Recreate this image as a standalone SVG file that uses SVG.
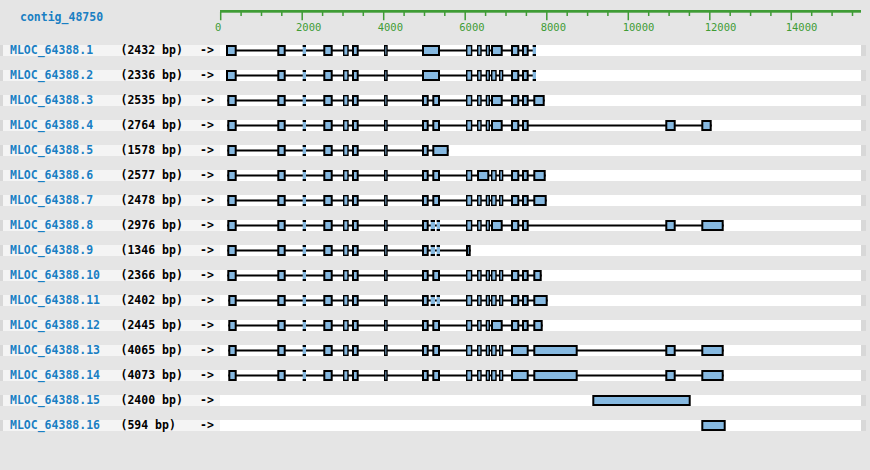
<svg xmlns="http://www.w3.org/2000/svg" xmlns:xlink="http://www.w3.org/1999/xlink" width="870" height="470" viewBox="0 0 870 470">
<style>
.bg{fill:#e5e5e5}
.bl{fill:#f4f4f4}
.bw{fill:#ffffff}
.bt{fill:#d8d8d8}
.ex{fill:#86b9e1;stroke:#000;stroke-width:2}
.en{fill:#86b9e1;stroke:#000;stroke-width:1.4}
.tf{fill:#86b9e1}
.tk{fill:#000}
.in{stroke:#000;stroke-width:2}
.name{font-family:"DejaVu Sans Mono","Liberation Mono",monospace;font-weight:bold;font-size:11.5px;fill:#1a7fc3}
.len{font-family:"DejaVu Sans Mono","Liberation Mono",monospace;font-weight:bold;font-size:11.5px;fill:#000}
.rl{font-family:"DejaVu Sans Mono","Liberation Mono",monospace;font-size:10.5px;fill:#3f9c35}
.tick{stroke:#3f9c35;stroke-width:1.5}
</style>
<defs>
<g id="band">
<rect x="0" y="0" width="3" height="11" class="bt"/>
<rect x="3" y="0" width="217" height="11" class="bl"/>
<rect x="220" y="0" width="641" height="11" class="bw"/>
<rect x="861" y="0" width="5" height="11" class="bt"/>
</g>
<g id="tiny">
<rect x="0" y="0" width="3.3" height="11" class="tf"/>
<rect x="0" y="0" width="3.3" height="2" class="tk"/>
<rect x="0" y="9" width="3.3" height="2" class="tk"/>
</g>
<g id="tinyw">
<rect x="0" y="0" width="4.3" height="11" class="tf"/>
<rect x="0" y="0" width="4.3" height="2" class="tk"/>
<rect x="0" y="9" width="4.3" height="2" class="tk"/>
</g>
<g id="core">
<rect x="278.3" y="1" width="6.4" height="9" class="ex"/>
<use xlink:href="#tiny" x="302.7"/>
<rect x="324.3" y="1" width="7.4" height="9" class="ex"/>
<rect x="343.7" y="0.7" width="4.3" height="9.6" class="en"/>
<rect x="353" y="1" width="4.7" height="9" class="ex"/>
<rect x="384.7" y="0.7" width="2.3" height="9.6" class="en"/>
</g>
<g id="dash">
<use xlink:href="#tinyw" x="430.7"/>
<use xlink:href="#tiny" x="436.7"/>
</g>
<rect id="e7a" x="423" y="1" width="4.7" height="9" class="ex"/>
<rect id="e7b" x="433.3" y="1" width="5.7" height="9" class="ex"/>
<rect id="e8" x="466.7" y="0.7" width="4.9" height="9.6" class="en"/>
<rect id="e9" x="477.7" y="0.7" width="3.3" height="9.6" class="en"/>
<rect id="e10" x="486.4" y="0.7" width="2.9" height="9.6" class="en"/>
<rect id="e11" x="492" y="1" width="9.7" height="9" class="ex"/>
<rect id="e11a" x="491.7" y="0.7" width="4.3" height="9.6" class="en"/>
<rect id="e11b" x="499.7" y="0.7" width="2.9" height="9.6" class="en"/>
<rect id="e12" x="512" y="1" width="6.3" height="9" class="ex"/>
<rect id="e13" x="523" y="1" width="4.7" height="9" class="ex"/>
</defs>
<rect x="0" y="0" width="870" height="470" class="bg"/>

<g id="ruler">
<text x="20" y="21" class="name">contig_48750</text>
<rect x="220" y="10" width="641" height="2.7" fill="#3f9c35"/>
<path class="tick" d="M220.7 12v8.3M302.2 12v8.3M383.7 12v8.3M465.2 12v8.3M546.8 12v8.3M628.3 12v8.3M709.8 12v8.3M791.3 12v8.3"/>
<path class="tick" d="M241.1 12v4M261.5 12v4M281.8 12v4M322.6 12v4M343 12v4M363.3 12v4M404.1 12v4M424.5 12v4M444.8 12v4M485.6 12v4M506 12v4M526.4 12v4M567.2 12v4M587.6 12v4M607.9 12v4M648.7 12v4M669.1 12v4M689.4 12v4M730.2 12v4M750.6 12v4M770.9 12v4M811.7 12v4M832.1 12v4M852.5 12v4"/>
<text x="215" y="30.7" class="rl">0</text>
<text x="296" y="30.7" class="rl">2000</text>
<text x="377.7" y="30.7" class="rl">4000</text>
<text x="459.3" y="30.7" class="rl">6000</text>
<text x="540.7" y="30.7" class="rl">8000</text>
<text x="622.7" y="30.7" class="rl">10000</text>
<text x="704.7" y="30.7" class="rl">12000</text>
<text x="785.7" y="30.7" class="rl">14000</text>
</g>

<g id="row1" transform="translate(0,45)">
<use xlink:href="#band"/>
<text x="10" y="9.4" class="name">MLOC_64388.1</text><text x="120.5" y="9.4" class="len">(2432 bp)</text><text x="200" y="9.4" class="len">-&gt;</text>
<line x1="226" y1="5.5" x2="536" y2="5.5" class="in"/>
<rect x="227" y="1" width="8.7" height="9" class="ex"/>
<use xlink:href="#core"/>
<rect x="423" y="1" width="16" height="9" class="ex"/>
<use xlink:href="#e8"/><use xlink:href="#e9"/><use xlink:href="#e10"/><use xlink:href="#e11"/><use xlink:href="#e12"/><use xlink:href="#e13"/>
<use xlink:href="#tiny" x="532.7"/>
</g>

<g id="row2" transform="translate(0,70)">
<use xlink:href="#band"/>
<text x="10" y="9.4" class="name">MLOC_64388.2</text><text x="120.5" y="9.4" class="len">(2336 bp)</text><text x="200" y="9.4" class="len">-&gt;</text>
<line x1="226" y1="5.5" x2="536" y2="5.5" class="in"/>
<rect x="227" y="1" width="8.7" height="9" class="ex"/>
<use xlink:href="#core"/>
<rect x="423" y="1" width="16" height="9" class="ex"/>
<use xlink:href="#e8"/><use xlink:href="#e9"/><use xlink:href="#e10"/><use xlink:href="#e11a"/><use xlink:href="#e11b"/><use xlink:href="#e12"/><use xlink:href="#e13"/>
<use xlink:href="#tiny" x="532.7"/>
</g>

<g id="row3" transform="translate(0,95)">
<use xlink:href="#band"/>
<text x="10" y="9.4" class="name">MLOC_64388.3</text><text x="120.5" y="9.4" class="len">(2535 bp)</text><text x="200" y="9.4" class="len">-&gt;</text>
<line x1="227.3" y1="5.5" x2="544.7" y2="5.5" class="in"/>
<rect x="228.3" y="1" width="7.4" height="9" class="ex"/>
<use xlink:href="#core"/>
<use xlink:href="#e7a"/><use xlink:href="#e7b"/>
<use xlink:href="#e8"/><use xlink:href="#e9"/><use xlink:href="#e10"/><use xlink:href="#e11"/><use xlink:href="#e12"/><use xlink:href="#e13"/>
<rect x="534.3" y="1" width="9.4" height="9" class="ex"/>
</g>

<g id="row4" transform="translate(0,120)">
<use xlink:href="#band"/>
<text x="10" y="9.4" class="name">MLOC_64388.4</text><text x="120.5" y="9.4" class="len">(2764 bp)</text><text x="200" y="9.4" class="len">-&gt;</text>
<line x1="227.3" y1="5.5" x2="711.7" y2="5.5" class="in"/>
<rect x="228.3" y="1" width="7.4" height="9" class="ex"/>
<use xlink:href="#core"/>
<use xlink:href="#e7a"/><use xlink:href="#e7b"/>
<use xlink:href="#e8"/><use xlink:href="#e9"/><use xlink:href="#e10"/><use xlink:href="#e11"/><use xlink:href="#e12"/><use xlink:href="#e13"/>
<rect x="666.3" y="1" width="8.4" height="9" class="ex"/>
<rect x="702.3" y="1" width="8.4" height="9" class="ex"/>
</g>

<g id="row5" transform="translate(0,145)">
<use xlink:href="#band"/>
<text x="10" y="9.4" class="name">MLOC_64388.5</text><text x="120.5" y="9.4" class="len">(1578 bp)</text><text x="200" y="9.4" class="len">-&gt;</text>
<line x1="227.3" y1="5.5" x2="448.7" y2="5.5" class="in"/>
<rect x="228.3" y="1" width="7.4" height="9" class="ex"/>
<use xlink:href="#core"/>
<use xlink:href="#e7a"/>
<rect x="433.3" y="1" width="14.4" height="9" class="ex"/>
</g>

<g id="row6" transform="translate(0,170)">
<use xlink:href="#band"/>
<text x="10" y="9.4" class="name">MLOC_64388.6</text><text x="120.5" y="9.4" class="len">(2577 bp)</text><text x="200" y="9.4" class="len">-&gt;</text>
<line x1="227.3" y1="5.5" x2="545.7" y2="5.5" class="in"/>
<rect x="228.3" y="1" width="7.4" height="9" class="ex"/>
<use xlink:href="#core"/>
<use xlink:href="#e7a"/><use xlink:href="#e7b"/>
<use xlink:href="#e8"/>
<rect x="478" y="1" width="10.3" height="9" class="ex"/>
<use xlink:href="#e11a"/><use xlink:href="#e11b"/><use xlink:href="#e12"/><use xlink:href="#e13"/>
<rect x="534.3" y="1" width="10.4" height="9" class="ex"/>
</g>

<g id="row7" transform="translate(0,195)">
<use xlink:href="#band"/>
<text x="10" y="9.4" class="name">MLOC_64388.7</text><text x="120.5" y="9.4" class="len">(2478 bp)</text><text x="200" y="9.4" class="len">-&gt;</text>
<line x1="227.3" y1="5.5" x2="546.7" y2="5.5" class="in"/>
<rect x="228.3" y="1" width="7.4" height="9" class="ex"/>
<use xlink:href="#core"/>
<use xlink:href="#e7a"/><use xlink:href="#e7b"/>
<use xlink:href="#e8"/><use xlink:href="#e9"/><use xlink:href="#e10"/><use xlink:href="#e11a"/><use xlink:href="#e11b"/><use xlink:href="#e12"/><use xlink:href="#e13"/>
<rect x="534.3" y="1" width="11.4" height="9" class="ex"/>
</g>

<g id="row8" transform="translate(0,220)">
<use xlink:href="#band"/>
<text x="10" y="9.4" class="name">MLOC_64388.8</text><text x="120.5" y="9.4" class="len">(2976 bp)</text><text x="200" y="9.4" class="len">-&gt;</text>
<line x1="227.3" y1="5.5" x2="723.7" y2="5.5" class="in"/>
<rect x="228.3" y="1" width="7.4" height="9" class="ex"/>
<use xlink:href="#core"/>
<use xlink:href="#e7a"/><use xlink:href="#dash"/>
<use xlink:href="#e8"/><use xlink:href="#e9"/><use xlink:href="#e10"/><use xlink:href="#e11"/><use xlink:href="#e12"/><use xlink:href="#e13"/>
<rect x="666.3" y="1" width="8.4" height="9" class="ex"/>
<rect x="702.3" y="1" width="20.4" height="9" class="ex"/>
</g>

<g id="row9" transform="translate(0,245)">
<use xlink:href="#band"/>
<text x="10" y="9.4" class="name">MLOC_64388.9</text><text x="120.5" y="9.4" class="len">(1346 bp)</text><text x="200" y="9.4" class="len">-&gt;</text>
<line x1="227.3" y1="5.5" x2="470.7" y2="5.5" class="in"/>
<rect x="228.3" y="1" width="7.4" height="9" class="ex"/>
<use xlink:href="#core"/>
<use xlink:href="#e7a"/><use xlink:href="#dash"/>
<rect x="467" y="1" width="2.7" height="9" class="ex"/>
</g>

<g id="row10" transform="translate(0,270)">
<use xlink:href="#band"/>
<text x="10" y="9.4" class="name">MLOC_64388.10</text><text x="120.5" y="9.4" class="len">(2366 bp)</text><text x="200" y="9.4" class="len">-&gt;</text>
<line x1="227.3" y1="5.5" x2="541.7" y2="5.5" class="in"/>
<rect x="228.3" y="1" width="7.4" height="9" class="ex"/>
<use xlink:href="#core"/>
<use xlink:href="#e7a"/><use xlink:href="#e7b"/>
<use xlink:href="#e8"/><use xlink:href="#e9"/><use xlink:href="#e10"/><use xlink:href="#e11a"/><use xlink:href="#e11b"/><use xlink:href="#e12"/><use xlink:href="#e13"/>
<rect x="534.3" y="1" width="6.4" height="9" class="ex"/>
</g>

<g id="row11" transform="translate(0,295)">
<use xlink:href="#band"/>
<text x="10" y="9.4" class="name">MLOC_64388.11</text><text x="120.5" y="9.4" class="len">(2402 bp)</text><text x="200" y="9.4" class="len">-&gt;</text>
<line x1="228.3" y1="5.5" x2="547.7" y2="5.5" class="in"/>
<rect x="229.3" y="1" width="6.4" height="9" class="ex"/>
<use xlink:href="#core"/>
<use xlink:href="#e7a"/><use xlink:href="#dash"/>
<use xlink:href="#e8"/><use xlink:href="#e9"/><use xlink:href="#e10"/><use xlink:href="#e11a"/><use xlink:href="#e11b"/><use xlink:href="#e12"/><use xlink:href="#e13"/>
<rect x="534.3" y="1" width="12.4" height="9" class="ex"/>
</g>

<g id="row12" transform="translate(0,320)">
<use xlink:href="#band"/>
<text x="10" y="9.4" class="name">MLOC_64388.12</text><text x="120.5" y="9.4" class="len">(2445 bp)</text><text x="200" y="9.4" class="len">-&gt;</text>
<line x1="228.3" y1="5.5" x2="542.7" y2="5.5" class="in"/>
<rect x="229.3" y="1" width="6.4" height="9" class="ex"/>
<use xlink:href="#core"/>
<use xlink:href="#e7a"/><use xlink:href="#e7b"/>
<use xlink:href="#e8"/><use xlink:href="#e9"/><use xlink:href="#e10"/><use xlink:href="#e11"/><use xlink:href="#e12"/><use xlink:href="#e13"/>
<rect x="534.3" y="1" width="7.4" height="9" class="ex"/>
</g>

<g id="row13" transform="translate(0,345)">
<use xlink:href="#band"/>
<text x="10" y="9.4" class="name">MLOC_64388.13</text><text x="120.5" y="9.4" class="len">(4065 bp)</text><text x="200" y="9.4" class="len">-&gt;</text>
<line x1="228.3" y1="5.5" x2="723.7" y2="5.5" class="in"/>
<rect x="229.3" y="1" width="6.4" height="9" class="ex"/>
<use xlink:href="#core"/>
<use xlink:href="#e7a"/><use xlink:href="#e7b"/>
<use xlink:href="#e8"/><use xlink:href="#e9"/><use xlink:href="#e10"/><use xlink:href="#e11a"/><use xlink:href="#e11b"/>
<rect x="512" y="1" width="15.7" height="9" class="ex"/>
<rect x="534.3" y="1" width="42.4" height="9" class="ex"/>
<rect x="666.3" y="1" width="8.4" height="9" class="ex"/>
<rect x="702.3" y="1" width="20.4" height="9" class="ex"/>
</g>

<g id="row14" transform="translate(0,370)">
<use xlink:href="#band"/>
<text x="10" y="9.4" class="name">MLOC_64388.14</text><text x="120.5" y="9.4" class="len">(4073 bp)</text><text x="200" y="9.4" class="len">-&gt;</text>
<line x1="228.3" y1="5.5" x2="723.7" y2="5.5" class="in"/>
<rect x="229.3" y="1" width="6.4" height="9" class="ex"/>
<use xlink:href="#core"/>
<use xlink:href="#e7a"/><use xlink:href="#e7b"/>
<use xlink:href="#e8"/><use xlink:href="#e9"/><use xlink:href="#e10"/><use xlink:href="#e11a"/><use xlink:href="#e11b"/>
<rect x="512" y="1" width="15.7" height="9" class="ex"/>
<rect x="534.3" y="1" width="42.4" height="9" class="ex"/>
<rect x="666.3" y="1" width="8.4" height="9" class="ex"/>
<rect x="702.3" y="1" width="20.4" height="9" class="ex"/>
</g>

<g id="row15" transform="translate(0,395)">
<use xlink:href="#band"/>
<text x="10" y="9.4" class="name">MLOC_64388.15</text><text x="120.5" y="9.4" class="len">(2400 bp)</text><text x="200" y="9.4" class="len">-&gt;</text>
<rect x="593.3" y="1" width="96.4" height="9" class="ex"/>
</g>

<g id="row16" transform="translate(0,420)">
<use xlink:href="#band"/>
<text x="10" y="9.4" class="name">MLOC_64388.16</text><text x="120.5" y="9.4" class="len">(594 bp)</text><text x="200" y="9.4" class="len">-&gt;</text>
<rect x="702.3" y="1" width="22.4" height="9" class="ex"/>
</g>
</svg>
